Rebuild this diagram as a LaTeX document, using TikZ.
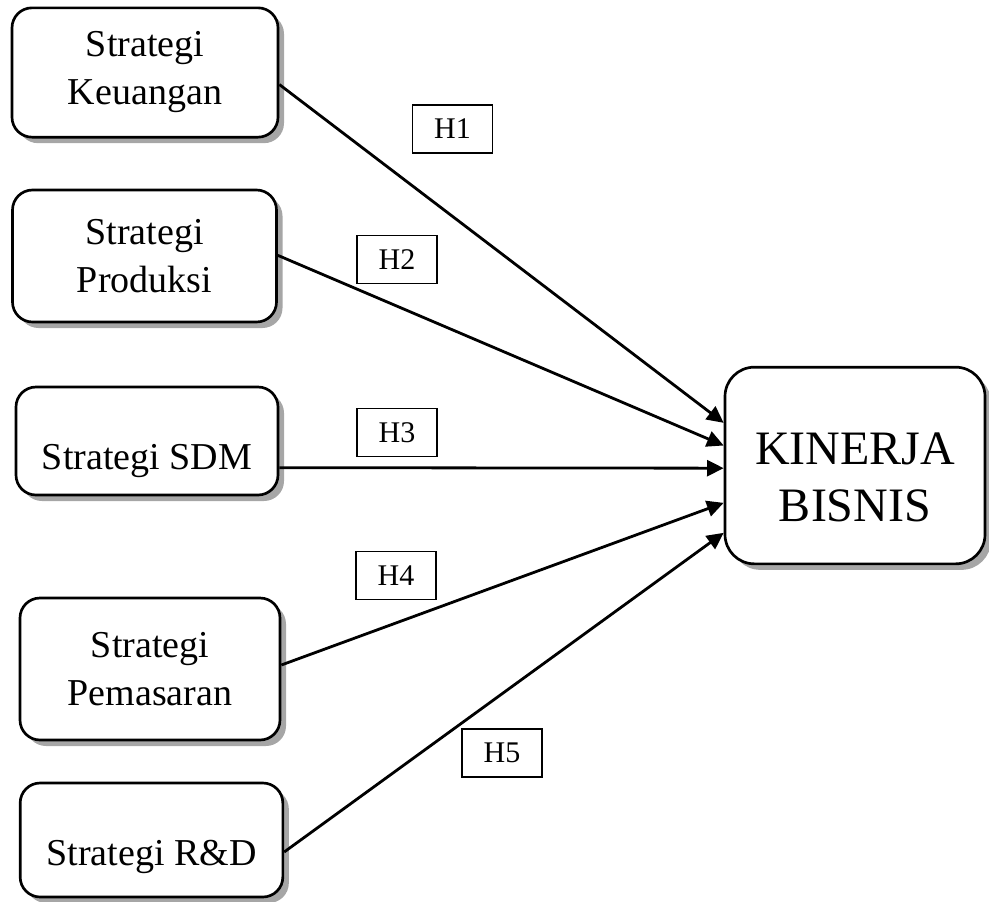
\documentclass[tikz,border=0pt]{standalone}
\usepackage{fontspec}
\setmainfont{Liberation Serif}
\usetikzlibrary{positioning, arrows.meta, shadows}

\begin{document}
\begin{tikzpicture}[
    x=0.75pt, y=-0.75pt,
    strat/.style={
        rectangle,
        draw=black,
        line width=2pt,
        rounded corners=15pt,
        fill=white,
        align=center,
        inner ysep=0pt,
        font=\fontsize{28.5}{36}\selectfont,
        drop shadow={shadow xshift=4.5pt, shadow yshift=-4.5pt, fill=gray!70, opacity=1}
    },
    result/.style={
        strat,
        rounded corners=22pt,
        font=\fontsize{36}{43}\selectfont
    },
    hyp/.style={
        rectangle,
        draw=black,
        line width=1.2pt,
        minimum width=60pt,
        minimum height=36pt,
        inner sep=0pt,
        font=\fontsize{22.5}{26}\selectfont
    },
    link/.style={
        -{Triangle[length=12.5pt, width=12pt]},
        line width=2.1pt
    }
]
    \useasboundingbox (0,0) rectangle (989,901);

    % Strategy boxes
    \node[strat, minimum width=199.5pt, minimum height=97pt] (keu) at (145,72.5) {Strategi\\Keuangan};
    \node[strat, minimum width=198pt, minimum height=99pt] (prod) at (144.5,256) {Strategi\\Produksi};
    \node[strat, minimum width=196.5pt, text height=62pt, text depth=19pt] (sdm) at (147,441) {Strategi SDM};
    \node[strat, minimum width=195pt, minimum height=106.5pt] (pem) at (150,669) {Strategi\\Pemasaran};
    \node[strat, minimum width=197pt, text height=61.5pt, text depth=24pt] (rnd) at (151.5,840) {Strategi R\&D};

    % Business performance
    \node[result, minimum width=195pt, text height=116pt, text depth=31.5pt] (kin) at (855,465.5) {KINERJA\\BISNIS};

    % Hypotheses
    \node[hyp] (h1) at (452.5,129) {H1};
    \node[hyp] (h2) at (397,259.5) {H2};
    \node[hyp] (h3) at (397,432.5) {H3};
    \node[hyp] (h4) at (396,575.5) {H4};
    \node[hyp] (h5) at (502,753) {H5};

    % Paths
    \draw[link] ([yshift=-9pt]keu.east) -- ([yshift=32pt]kin.west);
    \draw[link] ([yshift=0.5pt]prod.east) -- ([yshift=15pt]kin.west);
    \draw[link] ([yshift=-20pt]sdm.east) -- ([yshift=-2pt]kin.west);
    \draw[link] ([yshift=3pt]pem.east) -- ([yshift=-28pt]kin.west);
    \draw[link] ([yshift=-9pt]rnd.east) -- ([yshift=-50.5pt]kin.west);

\end{tikzpicture}
\end{document}
